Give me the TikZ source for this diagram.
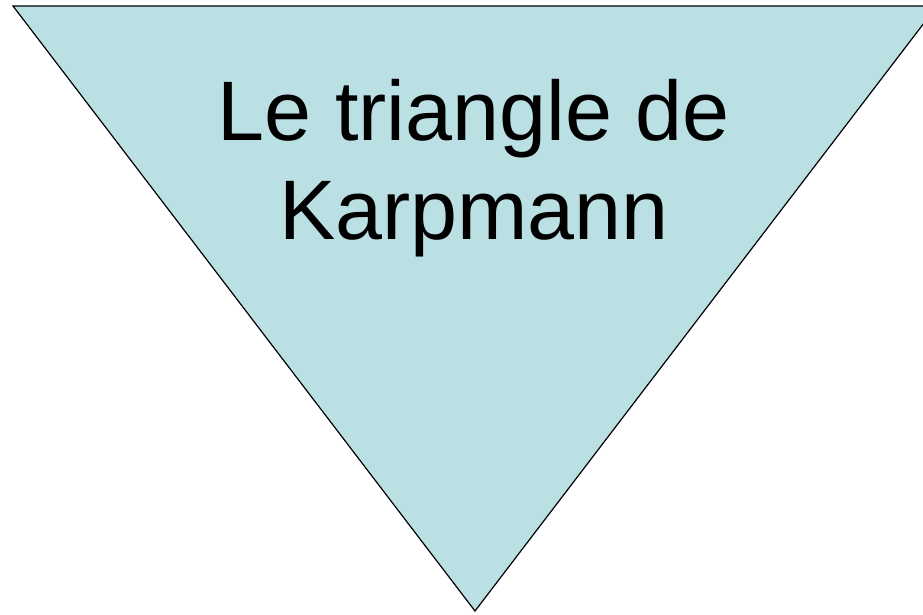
\documentclass[tikz,border=0pt]{standalone}
\usepackage{fontspec}
\setmainfont{Liberation Sans}
\definecolor{trifill}{RGB}{187,224,228}
\begin{document}
\begin{tikzpicture}[x=1pt,y=1pt,
  tri/.style={draw=black, line width=1.2pt, fill=trifill, line join=miter},
  title/.style={align=center, inner sep=0pt, font=\fontsize{84.5}{99}\selectfont, text=black}]
\useasboundingbox (0,0) rectangle (923,-614);
\clip (0,0) rectangle (923,-614);
\coordinate (tl) at (13,-6);
\coordinate (tr) at (937,-6);
\coordinate (bt) at (475,-611);
\draw[tri] (tl) -- (tr) -- (bt) -- cycle;
\node[title, anchor=base] (t) at (474,-239) {Le triangle de\\Karpmann};
\end{tikzpicture}
\end{document}
